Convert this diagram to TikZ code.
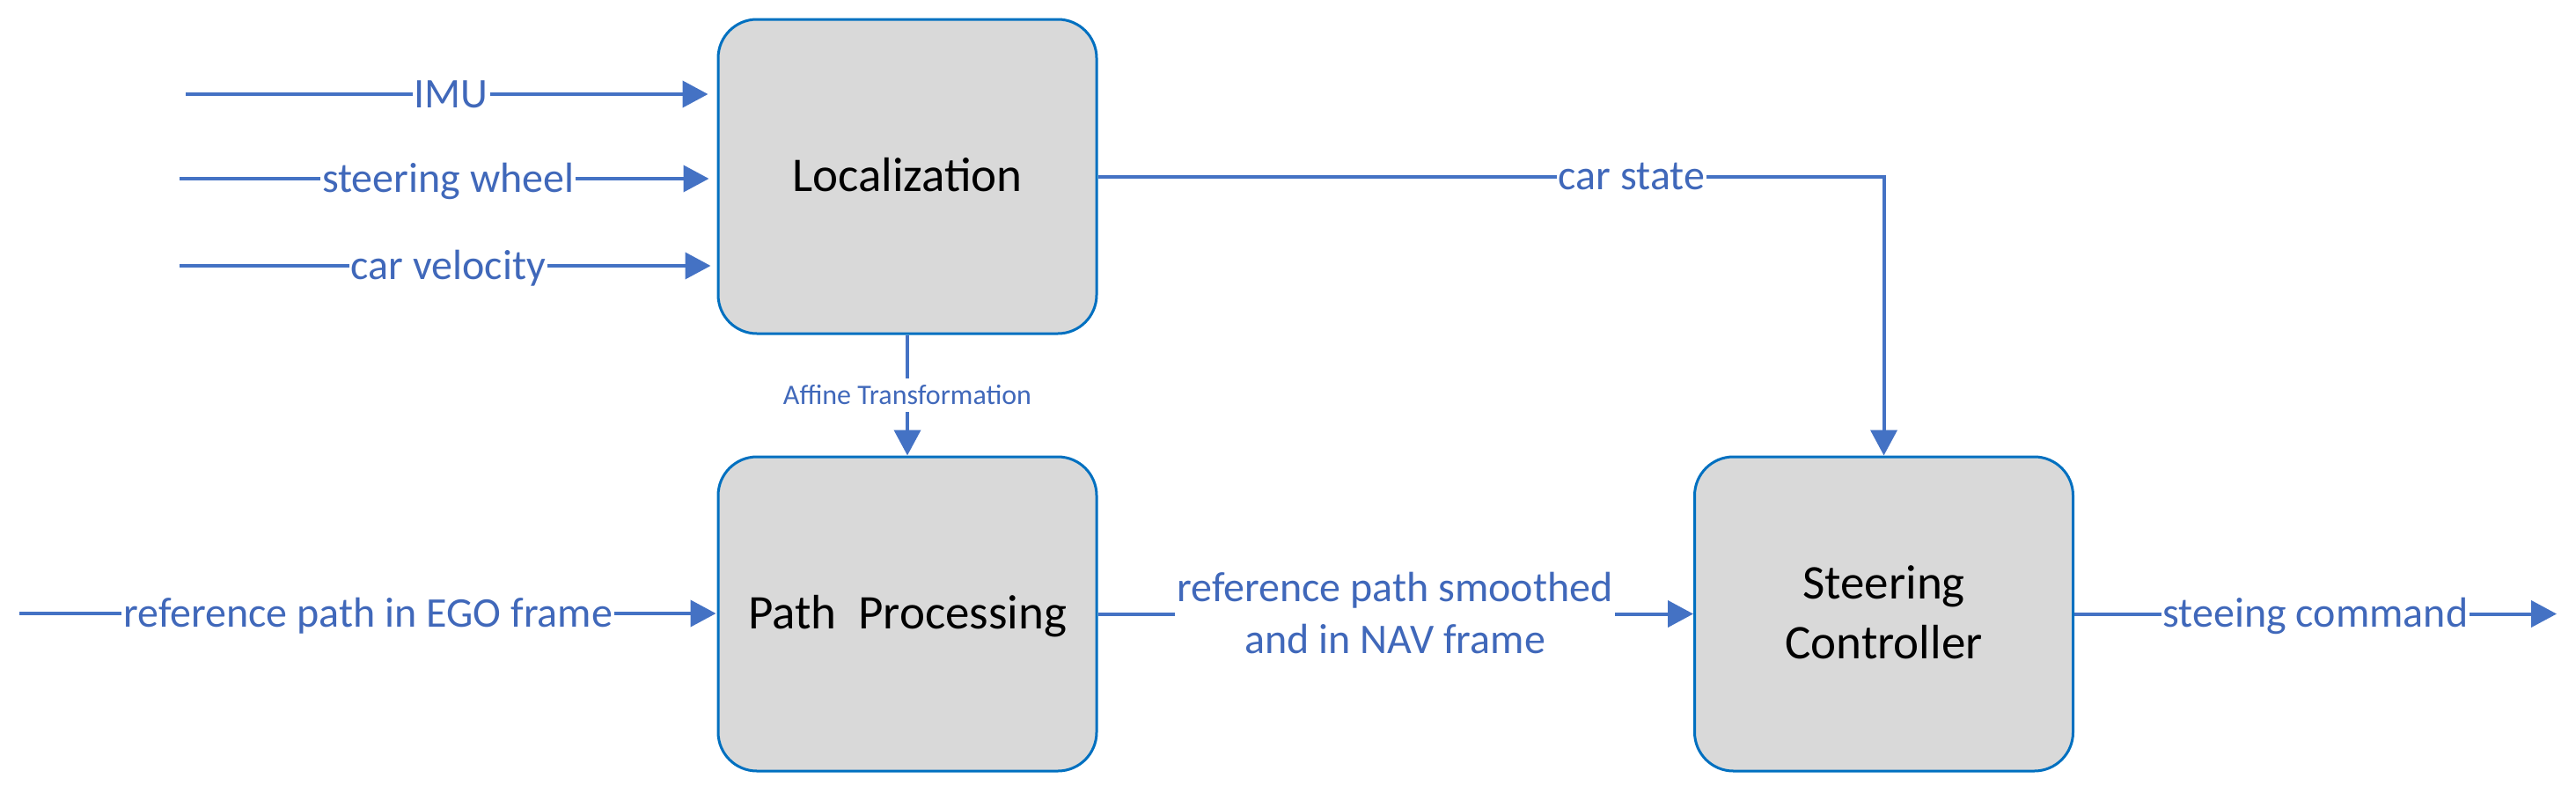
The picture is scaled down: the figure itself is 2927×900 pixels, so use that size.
\documentclass[tikz,border=0pt]{standalone}
\usepackage{fontspec}
\setmainfont{Carlito}
\usetikzlibrary{arrows.meta}
\definecolor{lineblue}{HTML}{4472C4}
\definecolor{txtblue}{HTML}{4068BA}
\definecolor{boxborder}{HTML}{0070C0}
\definecolor{boxfill}{HTML}{D9D9D9}
\begin{document}
\begin{tikzpicture}[x=1pt,y=-1pt,
  block/.style={draw=boxborder, line width=3pt, fill=boxfill, rounded corners=44pt,
    minimum width=430pt, minimum height=357pt, inner sep=0pt, align=center,
    font=\fontsize{55}{68}\selectfont, text height=34.7pt, text depth=0pt},
  arr/.style={draw=lineblue, line width=4pt, -{Triangle[length=29pt,width=30pt]}},
  lbl/.style={fill=white, text=txtblue, font=\fontsize{48}{59}\selectfont,
    inner xsep=2pt, inner ysep=4pt, text height=30.2pt, text depth=0pt},
  lblsmall/.style={fill=white, text=txtblue, font=\fontsize{32}{39}\selectfont,
    inner xsep=2pt, inner ysep=9pt, text height=20.2pt, text depth=0pt}]
\useasboundingbox (0,0) rectangle (2927,900);
\node[block] (loc) at (1031,200.5) {Localization};
\node[block] (pp) at (1031,697.5) {Path\ \ Processing};
\node[block, text height=102.7pt] (sc) at (2140.5,697.5) {Steering\\Controller};
\coordinate (imuS) at (211,107);
\coordinate (swS) at (204,203);
\coordinate (cvS) at (204,302);
\coordinate (refS) at (22,697);
\coordinate (outE) at (2905,697.5);
\draw[arr, shorten >=10pt] (imuS) -- node[lbl]{IMU} (imuS -| loc.west);
\draw[arr, shorten >=9pt] (swS) -- node[lbl]{steering wheel} (swS -| loc.west);
\draw[arr, shorten >=7pt] (cvS) -- node[lbl]{car velocity} (cvS -| loc.west);
\draw[arr, shorten >=1pt] (refS) -- node[lbl]{reference path in EGO frame} (refS -| pp.west);
\draw[arr] (loc.east) -- node[lbl, pos=0.679]{car state} (loc.east -| sc.north) -- (sc.north);
\draw[arr] (loc.south) -- node[lblsmall]{Affine Transformation} (pp.north);
\draw[arr] (pp.east) -- (sc.west);
\node[fill=white, text=txtblue, font=\fontsize{48}{59}\selectfont, align=center,
  inner xsep=2pt, inner ysep=2pt, anchor=base] (smooth) at (1585,742)
  {reference path smoothed\\and in NAV frame};
\draw[arr] (sc.east) -- node[lbl]{steeing command} (outE);
\end{tikzpicture}
\end{document}
